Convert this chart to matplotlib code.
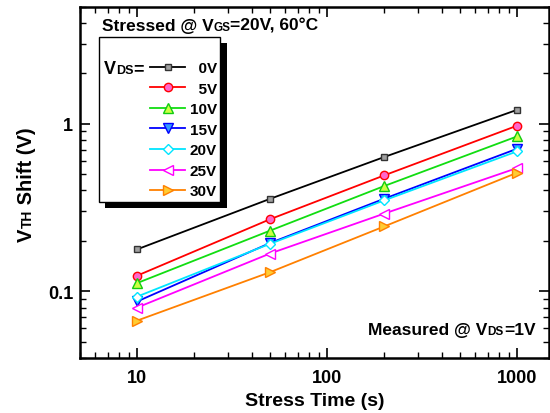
import matplotlib
matplotlib.use('Agg')
import matplotlib.pyplot as plt
from matplotlib.patches import Rectangle
from matplotlib.ticker import LogLocator, NullFormatter

plt.rcParams['font.family'] = ['Liberation Sans', 'DejaVu Sans']
plt.rcParams['font.weight'] = 'bold'

# data
stress_time = [10, 50, 200, 1000]
vds_labels = ['  0V', '  5V', '10V', '15V', '20V', '25V', '30V']
shift_0v = [0.178, 0.356, 0.633, 1.21]
shift_5v = [0.124, 0.269, 0.492, 0.973]
shift_10v = [0.112, 0.230, 0.425, 0.84]
shift_15v = [0.087, 0.194, 0.357, 0.709]
shift_20v = [0.093, 0.192, 0.349, 0.684]
shift_25v = [0.080, 0.168, 0.291, 0.544]
shift_30v = [0.0669, 0.130, 0.244, 0.51]

series = [shift_0v, shift_5v, shift_10v, shift_15v, shift_20v, shift_25v, shift_30v]
line_colors = ['black', '#ff0000', '#11dd11', '#0000ff', '#00e5ff', '#ff00ff', '#ff8000']
face_colors = ['#a0a0a0', '#ff66cc', '#ccff44', '#3399ff', 'white', 'white', '#ffcc33']
edge_colors = ['#333333', '#ff0000', '#11cc11', '#0000ff', '#00e5ff', '#ff00ff', '#ff8000']
markers = ['s', 'o', '^', 'v', 'D', '<', '>']
msizes = [5, 6, 6.5, 6.5, 5, 6.5, 6.5]

W, H = 550, 414
fig = plt.figure(figsize=(5.5, 4.14), dpi=100)
ax = fig.add_axes([80 / W, 1 - 359 / H, (549 - 80) / W, (359 - 7.5) / H])

handles = []
for ys, lc, fc, ec, m, ms in zip(series, line_colors, face_colors, edge_colors, markers, msizes):
    h, = ax.plot(stress_time, ys, color=lc, lw=1.3, marker=m, ms=ms,
                 mfc=fc, mec=ec, mew=1.0, zorder=2)
    handles.append(h)

ax.set_xscale('log')
ax.set_yscale('log')
ax.set_xlim(5, 1470)
ax.set_ylim(0.04, 5)
ax.set_xticks([10, 100, 1000], ['10', '100', '1000'])
ax.set_yticks([0.1, 1], ['0.1', '1'])
ax.xaxis.set_minor_locator(LogLocator(subs=range(2, 10)))
ax.yaxis.set_minor_locator(LogLocator(subs=range(2, 10)))
ax.xaxis.set_minor_formatter(NullFormatter())
ax.yaxis.set_minor_formatter(NullFormatter())
ax.tick_params(which='both', direction='in', top=True, right=True, labelsize=13)
ax.tick_params(which='major', length=7, width=1.2)
ax.tick_params(which='minor', length=4, width=1.0)
ax.tick_params(axis='x', pad=8)
ax.tick_params(axis='y', pad=5)
for sp in ax.spines.values():
    sp.set_linewidth(1.8)

ax.set_xlabel('Stress Time (s)', fontsize=14, fontweight='bold', labelpad=4)


def rich(x, y, parts, rotation=0):
    # draw text pieces of mixed size one after another on a shared baseline
    prev = None
    for s, size in parts:
        if prev is None:
            xy, coords = (x, y), 'figure pixels'
        elif rotation:
            xy, coords = (x, 1), ('figure pixels', prev)
        else:
            xy, coords = (1, y), (prev, 'figure pixels')
        prev = ax.annotate(s, xy, xycoords=coords, fontsize=size, fontweight='bold',
                           ha='left', va='baseline', rotation=rotation,
                           rotation_mode='anchor', annotation_clip=False, zorder=6)
    return prev


# y label
rich(32, H - 241.7, [('V', 14.5), ('TH', 10), (' Shift (V)', 14.5)], rotation=90)

# annotations
rich(101.5, H - 30.7, [('Stressed @ V', 12.5), ('GS', 8.5), ('=20V, 60\u00b0C', 12.5)])
rich(368.3, H - 335, [('Measured @ V', 12.5), ('DS', 8.5), ('=1V', 12.5)])

# legend box with shadow
ax.add_patch(Rectangle((105 / W, 1 - 209.3 / H), 121.7 / W, 165 / H, transform=fig.transFigure,
                       facecolor='black', edgecolor='none', clip_on=False, zorder=3))
ax.add_patch(Rectangle((99 / W, 1 - 202.7 / H), 121 / W, 164.4 / H, transform=fig.transFigure,
                       facecolor='white', edgecolor='black', lw=1.0, clip_on=False, zorder=3.5))
rich(104, H - 74, [('V', 13), ('DS', 9), ('=', 13)])

leg = ax.legend(handles, vds_labels, loc='upper left', bbox_to_anchor=(150 / W, 1 - 62 / H),
                bbox_transform=fig.transFigure, frameon=False,
                prop={'size': 11, 'weight': 'bold'},
                borderpad=0, borderaxespad=0, handlelength=2.3, handletextpad=0.3,
                labelspacing=0.43)
leg.set_zorder(5)

fig.savefig('out.png', dpi=100)
